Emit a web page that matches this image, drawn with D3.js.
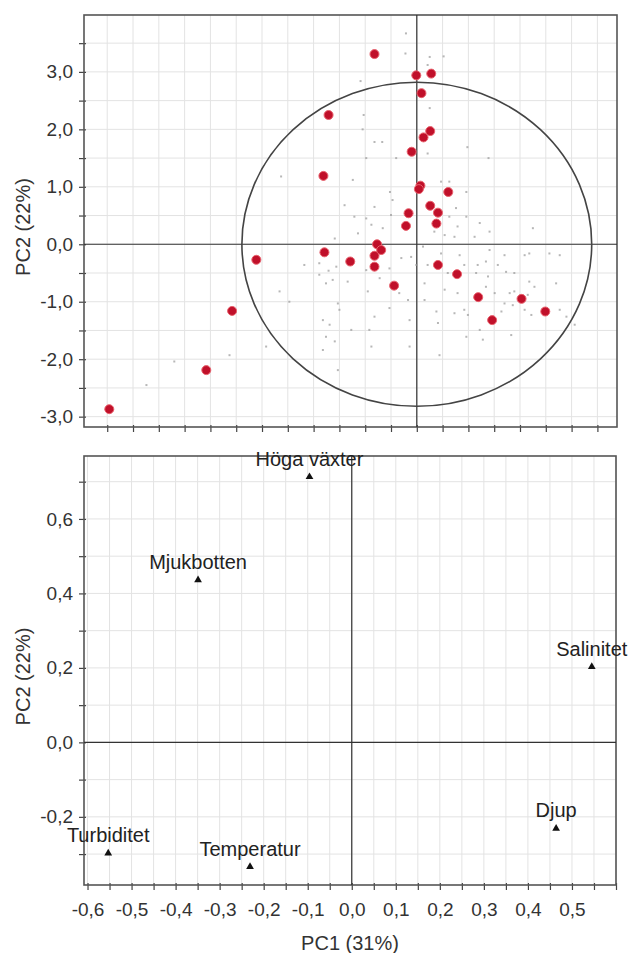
<!DOCTYPE html>
<html>
<head>
<meta charset="utf-8">
<script src="https://cdn.jsdelivr.net/npm/d3@7"></script>
<style>
  body { margin: 0; background: #fff; }
  svg { display: block; font-family: "Liberation Sans", Arial, sans-serif; }
</style>
</head>
<body>
<svg id="chart" width="629" height="953"></svg>
<script>
// score plot: all observations (small grey marks), PC1 / PC2 scores
const obsScores = [
  [-1.03, 2.25], [-1.05, 2.00], [-0.82, 1.78], [-0.67, 1.78], [-0.98, 1.50], [-0.40, 1.50],
  [-2.63, 1.18], [-1.24, 1.12], [-0.52, 0.91], [-0.47, 0.77], [-1.40, 0.68], [-0.82, 0.65],
  [-1.21, 0.48], [-0.98, 0.45], [-0.50, 0.51], [-0.88, 0.34], [-0.66, 0.28], [-1.59, 0.10],
  [-1.14, 0.19], [0.25, 2.37], [0.98, 1.69], [0.21, 1.58], [1.39, 1.50], [0.47, 1.09],
  [0.63, 1.09], [0.96, 0.91], [0.76, 0.63], [0.63, 0.48], [0.96, 0.48], [1.22, 0.37],
  [0.79, 0.31], [2.25, 0.28], [0.34, 0.22], [0.54, 0.16], [0.73, 0.13], [1.41, 0.22],
  [1.12, 0.13], [-2.18, -0.36], [-1.89, -0.33], [-1.71, -0.46], [-1.56, -0.39], [-1.89, -0.53],
  [-1.76, -0.68], [-2.66, -0.82], [-2.47, -1.00], [-1.34, -0.65], [-0.98, -0.45], [-0.95, -0.82],
  [-1.53, -1.03], [-1.50, -1.14], [-0.34, -0.85], [-0.53, -1.11], [-0.17, -0.97], [-1.82, -1.32],
  [-1.69, -1.40], [-0.82, -1.26], [-0.14, -1.32], [-1.27, -1.49], [-0.92, -1.49], [-1.76, -1.61],
  [-1.59, -1.69], [-2.92, -1.78], [-0.88, -1.78], [-0.14, -1.78], [-3.63, -1.93], [-1.82, -1.84],
  [-1.53, -2.19], [-0.01, -0.36], [-0.11, -0.22], [-0.30, -0.24], [-0.53, -0.42], [-0.72, -0.59],
  [0.12, -0.04], [0.47, -0.16], [0.83, -0.19], [1.70, -0.19], [2.09, -0.19], [2.77, -0.19],
  [1.41, -0.10], [0.21, -0.36], [0.92, -0.36], [1.18, -0.36], [1.34, -0.30], [1.57, -0.36],
  [1.73, -0.48], [0.60, -0.50], [1.15, -0.50], [1.38, -0.56], [1.89, -0.50], [2.18, -0.65],
  [2.70, -0.68], [0.15, -0.68], [0.54, -0.79], [0.79, -0.85], [1.34, -0.74], [1.51, -0.85],
  [1.80, -0.85], [1.89, -0.82], [2.15, -0.88], [2.28, -0.74], [0.15, -0.97], [0.38, -1.17],
  [0.92, -1.14], [0.99, -1.23], [1.70, -1.03], [1.86, -1.06], [2.22, -1.23], [2.90, -1.26],
  [3.06, -1.40], [0.41, -1.37], [1.22, -1.49], [0.96, -1.61], [1.28, -1.66], [1.83, -1.58],
  [0.44, -1.93], [1.64, -1.17], [2.09, -1.14], [0.73, -1.20], [-4.70, -2.04], [-5.24, -2.45],
  [-0.21, 3.67], [-0.22, 3.32], [0.25, 3.26], [0.52, 3.27], [0.21, 3.12], [-1.09, 2.84],
  [2.18, -0.16], [2.57, -0.16], [2.77, -1.14], [-1.63, -0.62]
];

// highlighted samples (red)
const sampleScores = [
  [-0.82, 3.31], [-0.01, 2.94], [0.28, 2.97], [0.09, 2.63], [-1.71, 2.25], [0.26, 1.97],
  [0.13, 1.86], [-0.10, 1.61], [-1.81, 1.19], [0.07, 1.02], [0.04, 0.96], [0.61, 0.91],
  [0.26, 0.67], [0.41, 0.55], [-0.16, 0.54], [-0.21, 0.32], [0.38, 0.36], [-0.77, 0.00],
  [-0.69, -0.10], [-1.79, -0.14], [-1.29, -0.30], [-0.82, -0.20], [-0.82, -0.39], [0.41, -0.36],
  [0.78, -0.52], [-0.44, -0.72], [1.19, -0.92], [2.03, -0.95], [2.49, -1.17], [1.46, -1.32],
  [-3.11, -0.27], [-3.58, -1.16], [-4.08, -2.19], [-5.96, -2.87]
];

// Hotelling T2 ellipse radii (score units)
const ellipseRadius = [3.39, 2.82];

// loading plot
const variables = ["Höga växter", "Mjukbotten", "Salinitet", "Djup", "Turbiditet", "Temperatur"];
const loadPC1 = [-0.096, -0.349, 0.545, 0.464, -0.553, -0.231];
const loadPC2 = [0.713, 0.436, 0.203, -0.231, -0.298, -0.334];

const scoreXTicks = d3.range(-6, 3.51, 0.5);
const scoreYTicks = d3.range(-3, 3.51, 0.5);
const scoreYLabels = [-3, -2, -1, 0, 1, 2, 3];
const loadXTicks = d3.range(-0.6, 0.601, 0.05);
const loadXLabels = [-0.6, -0.5, -0.4, -0.3, -0.2, -0.1, 0, 0.1, 0.2, 0.3, 0.4, 0.5];
const loadYTicks = d3.range(-0.3, 0.701, 0.1);
const loadYLabels = [-0.2, 0, 0.2, 0.4, 0.6];

const xTitle = "PC1 (31%)";
const yTitle = "PC2 (22%)";

const locale = d3.formatLocale({ decimal: ",", thousands: " ", grouping: [3], currency: ["", ""], minus: "-" });
const fmt = locale.format(".1f");

const svg = d3.select("#chart");

function panel (box, xDom, yDom, xTicks, yTicks, xLabels, yLabels) {
  const x = d3.scaleLinear().domain(xDom).range([box.left, box.right]);
  const y = d3.scaleLinear().domain(yDom).range([box.bottom, box.top]);
  const g = svg.append("g");

  // grid
  g.append("g").selectAll("line").data(xTicks).join("line")
    .attr("x1", d => x(d)).attr("x2", d => x(d))
    .attr("y1", box.top).attr("y2", box.bottom)
    .attr("stroke", "#e3e3e3").attr("stroke-width", 1);
  g.append("g").selectAll("line").data(yTicks).join("line")
    .attr("y1", d => y(d)).attr("y2", d => y(d))
    .attr("x1", box.left).attr("x2", box.right)
    .attr("stroke", "#e3e3e3").attr("stroke-width", 1);

  // axes
  const ya = g.append("g").attr("transform", `translate(${box.left},0)`)
    .call(d3.axisLeft(y).tickValues(yTicks).tickSize(5).tickPadding(6)
      .tickFormat(d => yLabels.some(v => Math.abs(v - d) < 1e-6) ? fmt(d) : ""));
  const xa = g.append("g").attr("transform", `translate(0,${box.bottom})`)
    .call(d3.axisBottom(x).tickValues(xTicks).tickSize(5).tickPadding(13)
      .tickFormat(d => xLabels.some(v => Math.abs(v - d) < 1e-6) ? fmt(d) : ""));
  [ya, xa].forEach(a => {
    a.select(".domain").remove();
    a.selectAll("line").attr("stroke", "#444").attr("stroke-width", 1.2);
    a.selectAll("text").attr("fill", "#333").style("font-size", "19px");
  });
  ya.selectAll("line").attr("x1", 2);
  xa.selectAll("line").attr("y1", -2);

  // frame and zero lines
  g.append("rect")
    .attr("x", box.left).attr("y", box.top)
    .attr("width", box.right - box.left).attr("height", box.bottom - box.top)
    .attr("fill", "none").attr("stroke", "#555").attr("stroke-width", 1.6);
  g.append("line").attr("x1", x(0)).attr("x2", x(0)).attr("y1", box.top).attr("y2", box.bottom)
    .attr("stroke", "#333").attr("stroke-width", 1.2);
  g.append("line").attr("y1", y(0)).attr("y2", y(0)).attr("x1", box.left).attr("x2", box.right)
    .attr("stroke", "#333").attr("stroke-width", 1.2);

  g.append("text")
    .attr("transform", `translate(25,${(box.top + box.bottom) / 2 + 6}) rotate(-90)`)
    .attr("text-anchor", "middle").attr("dominant-baseline", "middle")
    .attr("fill", "#333").style("font-size", "20px")
    .text(yTitle);

  return { x, y, g };
}

// ---- score plot ----
const scorePanel = panel({ left: 84, right: 617, top: 15, bottom: 427 },
  [-6.45, 3.88], [-3.18, 3.99], scoreXTicks, scoreYTicks, [], scoreYLabels);

scorePanel.g.append("g").selectAll("rect").data(obsScores).join("rect")
  .attr("x", d => scorePanel.x(d[0]) - 1).attr("y", d => scorePanel.y(d[1]) - 1)
  .attr("width", 2).attr("height", 2)
  .attr("fill", "#999").attr("opacity", 0.7);

scorePanel.g.append("ellipse")
  .attr("cx", scorePanel.x(0)).attr("cy", scorePanel.y(0))
  .attr("rx", scorePanel.x(ellipseRadius[0]) - scorePanel.x(0))
  .attr("ry", scorePanel.y(0) - scorePanel.y(ellipseRadius[1]))
  .attr("fill", "none").attr("stroke", "#444").attr("stroke-width", 1.6);

scorePanel.g.append("g").selectAll("circle").data(sampleScores).join("circle")
  .attr("cx", d => scorePanel.x(d[0])).attr("cy", d => scorePanel.y(d[1]))
  .attr("r", 4.5)
  .attr("fill", "#c0102a").attr("stroke", "#e8606c").attr("stroke-width", 1);

// ---- loading plot ----
const loadPanel = panel({ left: 84, right: 616, top: 456, bottom: 885 },
  [-0.608, 0.6], [-0.383, 0.769], loadXTicks, loadYTicks, loadXLabels, loadYLabels);

const loadings = variables.map((name, i) => ({ name, pc1: loadPC1[i], pc2: loadPC2[i] }));

loadPanel.g.append("g").selectAll("path").data(loadings).join("path")
  .attr("transform", d => `translate(${loadPanel.x(d.pc1)},${loadPanel.y(d.pc2)})`)
  .attr("d", d3.symbol(d3.symbolTriangle, 26))
  .attr("fill", "#111");

loadPanel.g.append("g").selectAll("text").data(loadings).join("text")
  .attr("x", d => loadPanel.x(d.pc1)).attr("y", d => loadPanel.y(d.pc2) - 11)
  .attr("text-anchor", "middle")
  .attr("fill", "#222").style("font-size", "20px")
  .text(d => d.name);

svg.append("text")
  .attr("x", 350).attr("y", 945)
  .attr("text-anchor", "middle").attr("dominant-baseline", "middle")
  .attr("fill", "#333").style("font-size", "20px")
  .text(xTitle);
</script>
</body>
</html>
